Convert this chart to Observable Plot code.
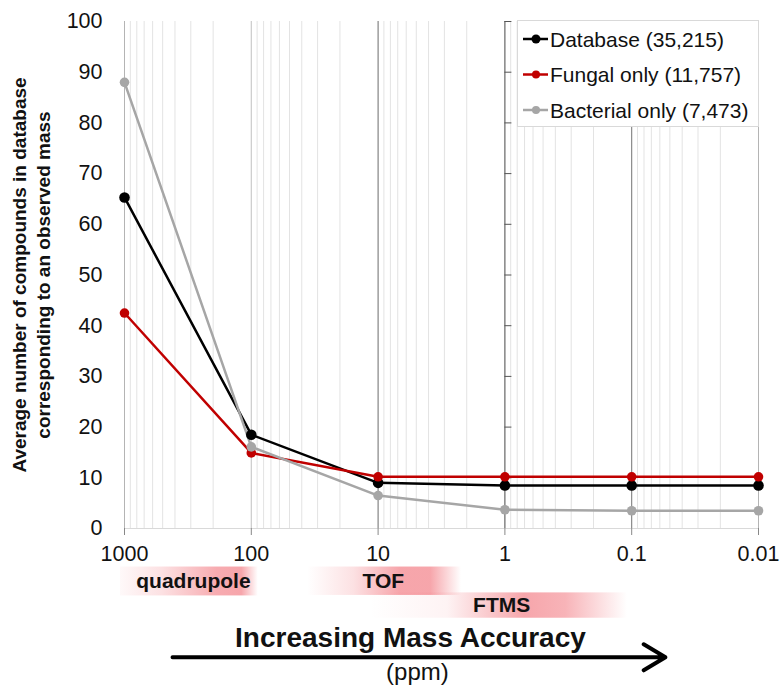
<!DOCTYPE html>
<html>
<head>
<meta charset="utf-8">
<script src="https://cdn.jsdelivr.net/npm/d3@7"></script>
<script src="https://cdn.jsdelivr.net/npm/@observablehq/plot@0.6"></script>
<style>
  html, body { margin: 0; padding: 0; background: #fff; }
  #wrap { position: relative; width: 783px; height: 687px; font-family: "Liberation Sans", Arial, sans-serif; }
  #legend { position: absolute; left: 517px; top: 20px; }
</style>
</head>
<body>
<div id="wrap"><div id="chart"></div><div id="legend"></div></div>
<script>
// ---- data ----
const accuracy = [1000, 100, 10, 1, 0.1, 0.01];            // ppm
const xTickLabels = ["1000", "100", "10", "1", "0.1", "0.01"];
const yTicks = [0, 10, 20, 30, 40, 50, 60, 70, 80, 90, 100];
const seriesNames = ["Database (35,215)", "Fungal only (11,757)", "Bacterial only (7,473)"];
const database  = [65.3, 18.5, 9.0, 8.5, 8.5, 8.5];
const fungal    = [42.5, 14.9, 10.2, 10.2, 10.2, 10.2];
const bacterial = [88.0, 16.1, 6.5, 3.7, 3.5, 3.5];
// instrument accuracy ranges (ppm) shown under the axis
const instrumentNames = ["quadrupole", "TOF", "FTMS"];
const instrumentFrom  = [1075, 36, 11.5];
const instrumentTo    = [88, 2.2, 0.108];
const instrumentLabelAt = [286, 9.1, 1.06];
const axisTitle = "Increasing Mass Accuracy";
const axisUnit = "(ppm)";
const yTitle = "Average number of compounds in database\ncorresponding to an observed mass";

// ---- styles ----
const seriesColors = ["#000000", "#c00000", "#a6a6a6"];
const seriesRadius = [5.3, 4.8, 4.8];
const bandRows = [[-7.6, -13.3], [-7.6, -13.2], [-12.7, -17.7]];
const bandStops = [
  [[0, 0.03], [0.3, 0.15], [0.7, 0.42], [0.88, 0.45], [1, 0]],
  [[0, 0], [0.3, 0.15], [0.6, 0.45], [0.8, 0.45], [1, 0]],
  [[0, 0], [0.3, 0.06], [0.6, 0.45], [0.76, 0.38], [1, 0]]
];

const values = [database, fungal, bacterial];
const rows = seriesNames.flatMap((name, s) =>
  accuracy.map((a, i) => ({series: name, ppm: a, count: values[s][i]})));

const bands = instrumentNames.map((name, i) => ({
  name, from: instrumentFrom[i], to: instrumentTo[i], at: instrumentLabelAt[i],
  lo: bandRows[i][0], hi: bandRows[i][1], mid: (bandRows[i][0] + bandRows[i][1]) / 2
}));

const defs = () => {
  const d = d3.create("svg:defs");
  bandStops.forEach((stops, i) => {
    const g = d.append("linearGradient").attr("id", "band" + i)
      .attr("x1", "0").attr("x2", "1").attr("y1", "0").attr("y2", "0");
    stops.forEach(([o, a]) => g.append("stop").attr("offset", o)
      .attr("stop-color", "rgb(236,56,68)").attr("stop-opacity", a));
  });
  return d.node();
};

const font = '"Liberation Sans", Arial, sans-serif';

const chart = Plot.plot({
  width: 783,
  height: 687,
  marginLeft: 124,
  marginRight: 25,
  marginTop: 21,
  marginBottom: 159,
  style: {fontFamily: font, background: "white", overflow: "visible"},
  x: {type: "log", domain: [1000, 0.01]},
  y: {domain: [0, 100]},
  color: {domain: seriesNames, range: seriesColors},
  marks: [
    defs,
    Plot.gridX({stroke: "#e3e3e3", strokeOpacity: 1}),
    Plot.ruleX([1000, 0.01], {stroke: "#b4b4b4"}),
    Plot.ruleX([100], {stroke: "#c8c8c8"}),
    Plot.ruleX([10, 0.1], {stroke: "#7a7a7a"}),
    Plot.ruleX([1], {stroke: "#555"}),
    Plot.ruleY(yTicks.filter(d => d > 0), {x1: 1, x2: 1, insetRight: -7, stroke: "#555"}),
    Plot.ruleY([0], {stroke: "#d9d9d9"}),
    Plot.axisX({ticks: accuracy, tickFormat: d => xTickLabels[accuracy.indexOf(d)],
      tickSize: 7, tickPadding: 10, fontSize: 21.5, label: null, stroke: "#888", fill: "#111"}),
    Plot.axisY({ticks: yTicks, tickSize: 0, tickPadding: 22, fontSize: 21.5, label: null, fill: "#111"}),
    Plot.text([yTitle], {frameAnchor: "left", textAnchor: "middle", rotate: -90, dx: -94, fontSize: 19,
      fontWeight: "bold", lineHeight: 1.25, fill: "#111"}),
    Plot.line(rows, {x: "ppm", y: "count", z: "series", stroke: "series", strokeWidth: 2.5}),
    ...seriesNames.map((name, s) => Plot.dot(rows.filter(r => r.series === name),
      {x: "ppm", y: "count", fill: "series", r: seriesRadius[s]})),
    ...bands.map((b, i) => Plot.rect([b], {x1: "from", x2: "to", y1: "lo", y2: "hi",
      fill: `url(#band${i})`})),
    Plot.text(bands, {x: "at", y: "mid", text: "name", fontSize: 21, fontWeight: "bold", fill: "#111"}),
    Plot.text([axisTitle], {x: () => 5.56, y: () => -21.7, fontSize: 28, fontWeight: "bold", fill: "#111"}),
    Plot.arrow([0], {x1: () => 418, x2: () => 0.0542, y1: () => -25.4, y2: () => -25.4,
      strokeWidth: 4, headLength: 9.5, headAngle: 62, stroke: "#000"}),
    Plot.text([axisUnit], {x: () => 4.9, y: () => -28.4, fontSize: 24, fill: "#111"})
  ]
});
document.getElementById("chart").appendChild(chart);

// ---- legend ----
const lg = d3.select("#legend").append("svg").attr("width", 243).attr("height", 108)
  .style("font-family", font);
lg.append("rect").attr("x", 0.5).attr("y", 0.5).attr("width", 241).attr("height", 106)
  .attr("fill", "white").attr("stroke", "#d9d9d9");
seriesNames.forEach((name, i) => {
  const cy = 19 + i * 35.5;
  lg.append("line").attr("x1", 6).attr("x2", 31).attr("y1", cy).attr("y2", cy)
    .attr("stroke", seriesColors[i]).attr("stroke-width", 2.5);
  lg.append("circle").attr("cx", 19).attr("cy", cy).attr("r", seriesRadius[i] - 0.8).attr("fill", seriesColors[i]);
  lg.append("text").attr("x", 33).attr("y", cy).attr("dy", "0.36em")
    .attr("font-size", 21).attr("fill", "#111").text(name);
});
</script>
</body>
</html>
